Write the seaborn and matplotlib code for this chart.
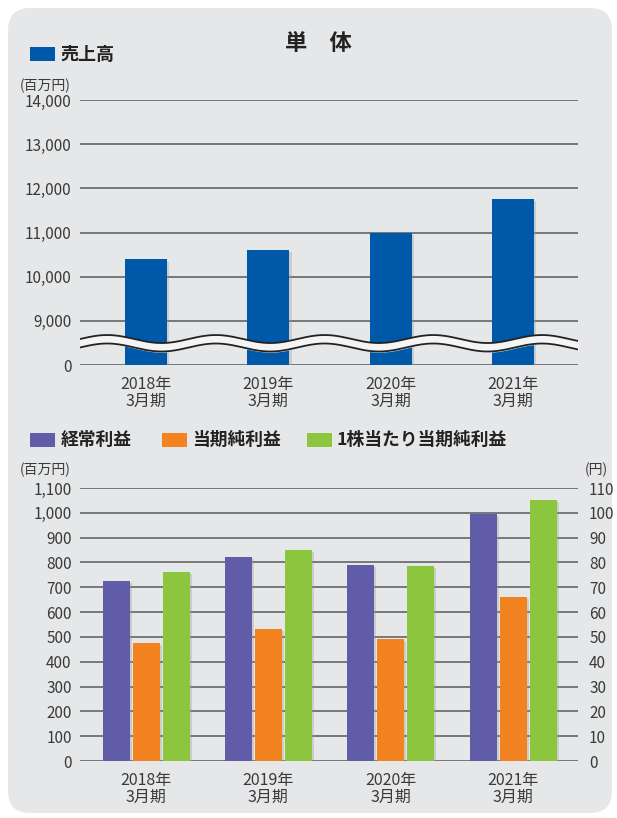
import numpy as np
import matplotlib.pyplot as plt
import pandas as pd
import seaborn as sb
from matplotlib.patches import FancyBboxPatch, Rectangle
from matplotlib.ticker import FuncFormatter
import matplotlib.patheffects as pe

# data
years = ['2018年\n3月期', '2019年\n3月期', '2020年\n3月期', '2021年\n3月期']
sales = [10390, 10610, 10990, 11750]            # 売上高 (百万円)
ordinary_profit = [725, 822, 790, 997]          # 経常利益 (百万円)
net_income = [476, 532, 492, 661]               # 当期純利益 (百万円)
eps = [76.2, 85.1, 78.6, 105.2]                 # 1株当たり当期純利益 (円)
items = ['経常利益', '当期純利益', '1株当たり当期純利益']
sales_ticks = [0, 9000, 10000, 11000, 12000, 13000, 14000]

blue = '#0058a9'
pal = ['#605ca8', '#f38220', '#8cc63f']
bg = '#e6e7e8'
txt = '#3a3a3a'
grid = '#58595b'

sb.set_style('white')
plt.rcParams['font.family'] = ['Noto Sans CJK JP', 'DejaVu Sans']

W, H = 617, 818
fig = plt.figure(figsize=(W / 100, H / 100), dpi=100)
fig.patch.set_facecolor('white')


def fx(px):
    return px / W


def fy(py):
    return 1 - py / H


# rounded grey panel
panel = FancyBboxPatch((0.08, 0.05), 6.04, 8.05,
                       boxstyle='round,pad=0,rounding_size=0.22',
                       transform=fig.dpi_scale_trans, facecolor=bg,
                       edgecolor='none', zorder=-5)
fig.add_artist(panel)

shadow = [pe.SimplePatchShadow(offset=(1.5, -1.5), shadow_rgbFace='#9a9a9a', alpha=0.35), pe.Normal()]

# ---------------- top chart: sales with broken axis ----------------
ax1 = fig.add_axes([fx(80), fy(365), fx(498), (365 - 100) / H])
ax1.set_facecolor('none')
sb.barplot(x=years, y=sales, color=blue, saturation=1, width=0.343,
           linewidth=0, edgecolor='none', ax=ax1, zorder=3)


def fwd(y):
    y = np.asarray(y, dtype=float)
    return np.where(y <= 9000, y / 9.0, y - 8000)


def inv(y):
    y = np.asarray(y, dtype=float)
    return np.where(y <= 1000, y * 9.0, y + 8000)


ax1.set_yscale('function', functions=(fwd, inv))
ax1.set_ylim(0, 14000)
ax1.set_xlim(-0.54, 3.53)
ax1.set_yticks(sales_ticks)
ax1.yaxis.set_major_formatter(FuncFormatter(lambda v, p: f'{v:,.0f}'))
ax1.grid(axis='y', color=grid, lw=1.1)
ax1.set_axisbelow(True)
for p in ax1.patches:
    p.set_path_effects(shadow)

# wavy break band
xs = np.linspace(0, 1, 400)
period = 108.7 / 498
amp = 4 / 265
top_line = 0.098 + amp * np.sin(2 * np.pi * xs / period)
bot_line = 0.066 + amp * np.sin(2 * np.pi * xs / period)
ax1.fill_between(xs, bot_line, top_line, color='#f4f4f4', transform=ax1.transAxes, zorder=5)
ax1.plot(xs, top_line, color='#222222', lw=1.3, transform=ax1.transAxes, zorder=6)
ax1.plot(xs, bot_line, color='#222222', lw=1.3, transform=ax1.transAxes, zorder=6)

# ---------------- bottom chart: profits + EPS ----------------
df = pd.DataFrame({
    'year': years * 3,
    'item': [items[0]] * 4 + [items[1]] * 4 + [items[2]] * 4,
    'value': ordinary_profit + net_income + eps,
})

ax2 = fig.add_axes([fx(80), fy(761), fx(498), (761 - 488) / H])
ax2.set_facecolor('none')
sb.barplot(data=df[df['item'] != items[2]], x='year', y='value', hue='item',
           hue_order=items, palette=pal, saturation=1, width=0.735, gap=0.1,
           dodge=True, linewidth=0, edgecolor='none', legend=False, ax=ax2, zorder=3)
ax2.set_ylim(0, 1100)
ax2.set_yticks(range(0, 1101, 100))
ax2.yaxis.set_major_formatter(FuncFormatter(lambda v, p: f'{v:,.0f}'))
ax2.grid(axis='y', color=grid, lw=1.1)
ax2.set_axisbelow(True)

ax3 = ax2.twinx()
sb.barplot(data=df[df['item'] == items[2]], x='year', y='value', hue='item',
           hue_order=items, palette=pal, saturation=1, width=0.735, gap=0.1,
           dodge=True, linewidth=0, edgecolor='none', legend=False, ax=ax3, zorder=3)
ax3.set_ylim(0, 110)
ax3.set_yticks(range(0, 111, 10))
ax3.grid(False)
ax2.set_xlim(-0.54, 3.53)
for a in (ax2, ax3):
    for p in a.patches:
        p.set_path_effects(shadow)

for a in (ax1, ax2, ax3):
    sb.despine(ax=a, left=True, bottom=True, right=True, top=True)
    a.set_xlabel('')
    a.set_ylabel('')
    a.tick_params(axis='y', length=0, labelsize=11, colors=txt, pad=6)
    a.tick_params(axis='x', length=0, labelsize=11.5, colors=txt, pad=8)
    for t in a.get_xticklabels():
        t.set_linespacing(1.0)
ax3.tick_params(axis='y', pad=8)

# ---------------- titles, legends, units ----------------
fig.text(fx(318), fy(44), '単　体', ha='center', va='center', fontsize=16,
         fontweight='bold', color='#222222')


def legend_item(x, y, color, label, textx, size):
    fig.add_artist(Rectangle((fx(x), fy(y + 7)), fx(25), 14 / H,
                             transform=fig.transFigure, facecolor=color, edgecolor='none'))
    fig.text(fx(textx), fy(y), label, ha='left', va='center', fontsize=size,
             fontweight='bold', color='#222222')


legend_item(30, 54, blue, '売上高', 60, 13)
legend_item(30, 440, pal[0], items[0], 61, 12.8)
legend_item(162, 440, pal[1], items[1], 192, 12.8)
legend_item(307, 440, pal[2], items[2], 337, 12.8)

fig.text(fx(20), fy(86), '(百万円)', ha='left', va='center', fontsize=10, color=txt)
fig.text(fx(20), fy(470), '(百万円)', ha='left', va='center', fontsize=10, color=txt)
fig.text(fx(585), fy(470), '(円)', ha='left', va='center', fontsize=10, color=txt)

fig.savefig('out.png', dpi=100, facecolor='white')
